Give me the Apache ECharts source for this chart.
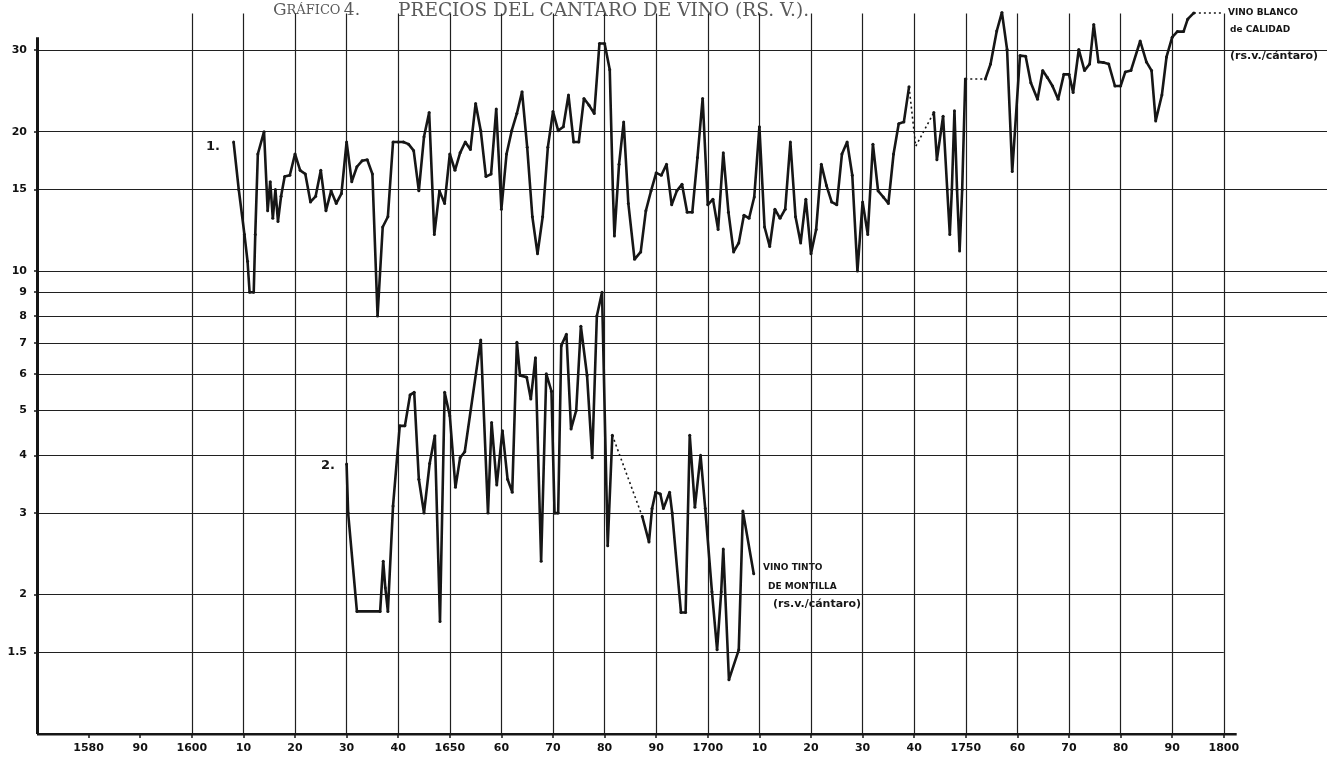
<!DOCTYPE html>
<html><head><meta charset="utf-8">
<script src="https://cdn.jsdelivr.net/npm/echarts@6/dist/echarts.min.js"></script>
<style>html,body{margin:0;padding:0;background:#fff}#c{width:1339px;height:761px}</style>
</head><body><div id="c"></div>
<script>
// ---- axis ticks / labels ----
const xTicks = [1580,1590,1600,1610,1620,1630,1640,1650,1660,1670,1680,1690,1700,1710,1720,1730,1740,1750,1760,1770,1780,1790,1800];
const yTicks = [1.5,2,3,4,5,6,7,8,9,10,15,20,30];
const verticalGrid = [1600,1610,1620,1630,1640,1650,1660,1670,1680,1690,1700,1710,1720,1730,1740,1750,1760,1770,1780,1790,1800];
const upperGrid = [8,9,10,15,20,30];
const lowerGrid = [1.5,2,3,4,5,6,7];

// ---- 1. Vino blanco de calidad (rs.v./cántaro) ----
const blancoA = [[1608.1,19.0],[1609.1,15.0],[1610.2,12.0],[1610.8,10.5],[1611.2,9.0],[1612,9.0],[1612.3,12.0],[1612.8,17.9],[1614,20.0],[1614.7,13.5],[1615.2,15.6],[1615.7,13.0],[1616.2,15.0],[1616.7,12.8],[1617.3,14.5],[1618,16.0],[1619,16.1],[1620,17.9],[1621,16.5],[1622,16.2],[1623,14.1],[1624,14.5],[1625,16.5],[1626,13.5],[1627,14.9],[1628,14.0],[1629,14.7],[1630,19.0],[1631,15.6],[1632,16.8],[1633,17.3],[1634,17.4],[1635,16.2],[1636,8.0],[1637,12.45],[1638,13.1],[1639,19.0],[1640,19.0],[1641,19.0],[1642,18.8],[1643,18.2],[1644,14.9],[1645,19.5],[1646,22.0],[1647,12.0],[1648,14.9],[1649,14.0],[1650,17.9],[1651,16.5],[1652,18.0],[1653,19.0],[1654,18.3],[1655,23.0],[1656,20.1],[1657,16.0],[1658,16.2],[1659,22.4],[1660,13.6],[1661,17.9],[1662,20.1],[1663,21.9],[1664,24.4],[1665,18.5],[1666,13.1],[1667,10.9],[1668,13.1],[1669,18.5],[1670,22.1],[1671,20.1],[1672,20.5],[1673,24.0],[1674,19.0],[1675,19.0],[1676,23.6],[1677,22.8],[1678,21.9],[1679,31.0],[1680,31.0],[1681,27.2],[1681.6,15.0],[1681.9,11.9],[1682.8,17.0],[1683.7,21.0],[1684.6,14.0],[1685.8,10.6],[1687,11.0],[1688,13.5],[1689,14.9],[1690,16.3],[1691,16.1],[1692,17.0],[1693,13.9],[1694,14.9],[1695,15.4],[1696,13.4],[1697,13.4],[1698,17.6],[1699,23.6],[1700,13.9],[1701,14.3],[1702,12.3],[1703,18.0],[1704,13.4],[1705,11.0],[1706,11.5],[1707,13.2],[1708,13.0],[1709,14.45],[1710,20.5],[1711,12.45],[1712,11.3],[1713,13.6],[1714,13.0],[1715,13.6],[1716,19.0],[1717,13.1],[1718,11.5],[1719,14.3],[1720,10.9],[1721,12.3],[1722,17.0],[1723,15.3],[1724,14.1],[1725,13.9],[1726,17.9],[1727,19.0],[1728,16.1],[1729,10.0],[1730,14.1],[1731,12.0],[1732,18.8],[1733,14.9],[1734,14.45],[1735,14.0],[1736,17.9],[1737,20.8],[1738,21.0],[1739,25.0]];
const blancoGap1 = [[1739,25.0],[1740.3,18.6],[1743.8,22.0]];
const blancoB = [[1743.8,22.0],[1744.4,17.4],[1745.6,21.6],[1746.4,15.0],[1746.9,12.0],[1747.3,15.0],[1747.8,22.2],[1748.3,15.0],[1748.8,11.05],[1749.3,15.0],[1749.9,26.0]];
const blancoGap2 = [[1749.9,26.0],[1753.8,26.0]];
const blancoC = [[1753.8,26.0],[1754.8,28.0],[1756,33.0],[1757,36.2],[1758,30.1],[1759,16.4],[1760.5,29.2],[1761.6,29.1],[1762.6,25.5],[1763.9,23.5],[1764.9,27.1],[1765.8,26.2],[1766.8,25.1],[1767.9,23.5],[1769,26.6],[1770,26.6],[1770.8,24.3],[1771.9,30.1],[1773,27.1],[1774,28.0],[1774.8,34.1],[1775.7,28.3],[1776.7,28.2],[1777.7,28.0],[1778.9,25.1],[1780,25.1],[1780.9,26.9],[1782,27.1],[1783.8,31.4],[1785,28.3],[1786,27.1],[1786.8,21.1],[1788,24.0],[1788.9,29.0],[1790,32.0],[1791,32.9],[1792.2,32.9],[1793,35.0],[1794.2,36.1]];
const blancoGap3 = [[1794.2,36.1],[1799.7,36.1]];

// ---- 2. Vino tinto (rs.v./cántaro) ----
const tintoA = [[1630,3.83],[1630.3,3.0],[1632,1.84],[1636.5,1.84],[1637.1,2.36],[1637.5,2.07],[1638,1.84],[1639,3.11],[1640.3,4.63],[1641.3,4.63],[1642.3,5.4],[1643.1,5.47],[1644,3.55],[1645,3.0],[1646.1,3.84],[1647.1,4.41],[1648.1,1.75],[1649,5.47],[1650,4.87],[1651.1,3.41],[1652,3.95],[1652.9,4.07],[1656,7.1],[1657.4,3.0],[1658.1,4.71],[1659.1,3.45],[1660.2,4.52],[1661.2,3.55],[1662.1,3.33],[1663,7.02],[1663.6,5.95],[1664.9,5.9],[1665.7,5.29],[1666.6,6.5],[1667.7,2.36],[1668.7,6.0],[1669.7,5.5],[1670.3,3.0],[1671,3.0],[1671.6,6.9],[1672.6,7.3],[1673.5,4.56],[1674.5,5.0],[1675.4,7.6],[1676.6,5.95],[1677.6,3.95],[1678.5,8.0],[1679.5,9.0],[1680.6,2.55],[1681.5,4.42]];
const tintoGap = [[1681.5,4.42],[1687.3,2.95]];
const tintoB = [[1687.3,2.95],[1688.6,2.6],[1689.2,3.07],[1689.9,3.33],[1690.8,3.3],[1691.4,3.07],[1692.6,3.33],[1693.1,3.0],[1694.8,1.83],[1695.7,1.83],[1696.5,4.42],[1697.5,3.09],[1698.6,4.0],[1699.5,3.07],[1700.8,2.03],[1701.8,1.52],[1702.6,2.03],[1703,2.51],[1704.1,1.31],[1706,1.52],[1706.8,3.03],[1708.9,2.22]];

const X_MIN = 1570, X_MAX = 1820, Y_MIN = 1, Y_MAX = 37;
const X_AXIS_END = 1802.5, Y_AXIS_TOP = 32, GRID_TOP_VAL = 36, LOWER_END = 1800;

// gridline segments
const gridSegs = [];
verticalGrid.forEach(v => gridSegs.push({coords: [[v, Y_MIN], [v, GRID_TOP_VAL]]}));
upperGrid.forEach(v => gridSegs.push({coords: [[X_MIN, v], [X_MAX, v]]}));
lowerGrid.forEach(v => gridSegs.push({coords: [[X_MIN, v], [LOWER_END, v]]}));
const axisSegs = [
  {coords: [[X_MIN, Y_MIN], [X_AXIS_END, Y_MIN]]},
  {coords: [[X_MIN, Y_MIN], [X_MIN, Y_AXIS_TOP]]}
];

const ink = '#161616';
const titleGrey = '#5a5a5a';
function solid(data) {
  return {type: 'line', data, showSymbol: true, symbol: 'circle', symbolSize: 3,
    lineStyle: {color: ink, width: 2.6}, itemStyle: {color: ink}, z: 5, silent: true};
}
function dotted(data) {
  return {type: 'line', data, showSymbol: false,
    lineStyle: {color: ink, width: 1.6, type: [2, 3]}, z: 5, silent: true};
}

const chart = echarts.init(document.getElementById('c'), null, {renderer: 'canvas'});
chart.setOption({
  animation: false,
  backgroundColor: '#ffffff',
  grid: {left: 37, right: 12, top: 8, bottom: 27, containLabel: false},
  xAxis: {
    type: 'value', min: X_MIN, max: X_MAX,
    axisLine: {show: false},
    splitLine: {show: false},
    axisTick: {show: true, customValues: xTicks, length: 4, inside: false, lineStyle: {color: ink, width: 1.5}},
    axisLabel: {customValues: xTicks, margin: 9, color: '#111', fontFamily: 'DejaVu Sans', fontWeight: 'bold', fontSize: 11,
      formatter: v => (v === 1580 || v % 50 === 0) ? String(v) : String(v % 100).padStart(2, '0')}
  },
  yAxis: {
    type: 'log', logBase: 10, min: Y_MIN, max: Y_MAX,
    axisLine: {show: false},
    splitLine: {show: false},
    axisTick: {show: true, customValues: yTicks, length: 3, lineStyle: {color: ink, width: 1.5}},
    axisLabel: {customValues: yTicks, margin: 10, color: '#111', fontFamily: 'DejaVu Sans', fontWeight: 'bold', fontSize: 11,
      formatter: v => String(v)}
  },
  graphic: [
    {type: 'text', left: 273, top: 2, style: {
      text: '{a|G}{b|RÁFICO} {a|4.}',
      rich: {a: {fontSize: 17, fontFamily: 'DejaVu Serif', fill: titleGrey},
             b: {fontSize: 13, fontFamily: 'DejaVu Serif', fill: titleGrey}}}},
    {type: 'text', left: 398, top: 2, style: {
      text: 'PRECIOS DEL CANTARO DE VINO (RS. V.).', font: '18.5px DejaVu Serif', fill: titleGrey}},
    {type: 'text', left: 206, top: 140, style: {text: '1.', font: 'bold 13px DejaVu Sans', fill: ink}},
    {type: 'text', left: 321, top: 459, style: {text: '2.', font: 'bold 13px DejaVu Sans', fill: ink}},
    {type: 'text', left: 1228, top: 8, style: {text: 'VINO BLANCO', font: 'bold 9px DejaVu Sans', fill: ink}},
    {type: 'text', left: 1230, top: 25, style: {text: 'de CALIDAD', font: 'bold 9px DejaVu Sans', fill: ink}},
    {type: 'text', left: 1230, top: 51, style: {text: '(rs.v./cántaro)', font: 'bold 11px DejaVu Sans', fill: ink}},
    {type: 'text', left: 763, top: 563, style: {text: 'VINO TINTO', font: 'bold 9px DejaVu Sans', fill: ink}},
    {type: 'text', left: 768, top: 582, style: {text: 'DE MONTILLA', font: 'bold 9px DejaVu Sans', fill: ink}},
    {type: 'text', left: 773, top: 599, style: {text: '(rs.v./cántaro)', font: 'bold 11px DejaVu Sans', fill: ink}}
  ],
  series: [
    {type: 'lines', coordinateSystem: 'cartesian2d', data: gridSegs, silent: true, z: 1,
      lineStyle: {color: '#202020', width: 1.2, opacity: 1, curveness: 0}},
    {type: 'lines', coordinateSystem: 'cartesian2d', data: axisSegs, silent: true, z: 2,
      lineStyle: {color: ink, width: 3, opacity: 1, curveness: 0}},
    solid(blancoA), dotted(blancoGap1), solid(blancoB), dotted(blancoGap2), solid(blancoC), dotted(blancoGap3),
    solid(tintoA), dotted(tintoGap), solid(tintoB)
  ]
});
</script>
</body></html>
